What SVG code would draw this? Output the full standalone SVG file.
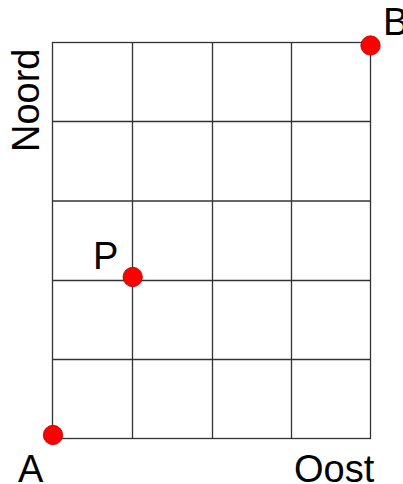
<svg xmlns="http://www.w3.org/2000/svg" width="403" height="484" viewBox="0 0 403 484">
<style>
.g{stroke:#333;stroke-width:1.3;fill:none}
.pt{fill:#ff0000;stroke:#b00000;stroke-width:0.8}
.t{font-family:"Liberation Sans",Arial,sans-serif;font-size:38px;fill:#000}
</style>
<rect width="403" height="484" fill="#fff"/>
<g id="grid" class="g">
<rect x="52.5" y="42.5" width="318" height="396"/>
<line x1="132.5" y1="42.5" x2="132.5" y2="438.5"/>
<line x1="212.5" y1="42.5" x2="212.5" y2="438.5"/>
<line x1="291.5" y1="42.5" x2="291.5" y2="438.5"/>
<line x1="52.5" y1="121.5" x2="370.5" y2="121.5"/>
<line x1="52.5" y1="201" x2="370.5" y2="201"/>
<line x1="52.5" y1="280.5" x2="370.5" y2="280.5"/>
<line x1="52.5" y1="359.5" x2="370.5" y2="359.5"/>
</g>
<g id="A"><circle class="pt" cx="53" cy="435" r="9.7"/><text class="t" x="18" y="481.5">A</text></g>
<g id="B"><circle class="pt" cx="370.5" cy="45.5" r="9.7"/><text class="t" x="383" y="35">B</text></g>
<g id="P"><circle class="pt" cx="132.7" cy="277" r="9.7"/><text class="t" x="93" y="269">P</text></g>
<g id="labels">
<text class="t" x="294" y="481.5">Oost</text>
<text class="t" transform="translate(38.5,152) rotate(-90)">Noord</text>
</g>
</svg>
